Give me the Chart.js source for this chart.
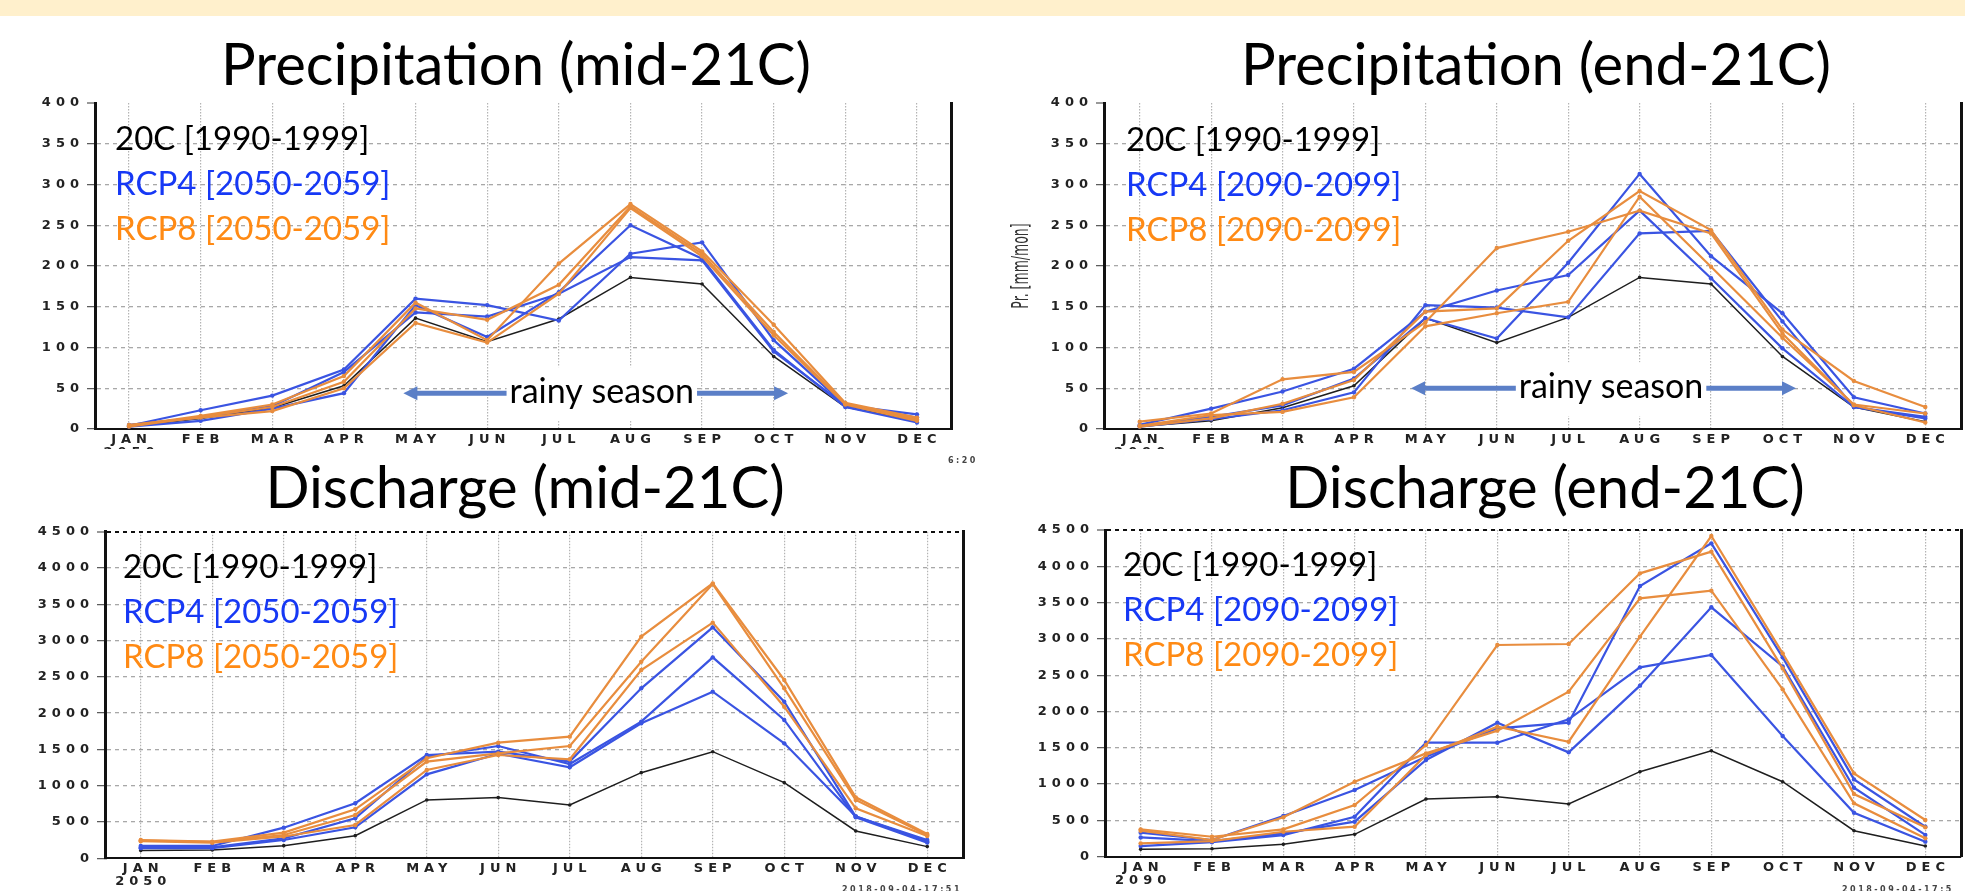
<!DOCTYPE html>
<html>
<head>
<meta charset="utf-8">
<script src="https://cdn.jsdelivr.net/npm/chart.js@4/dist/chart.umd.min.js"></script>
<style>
  html, body { margin: 0; padding: 0; background: #fff; }
  body { width: 1965px; height: 891px; position: relative; overflow: hidden; }
  #band { position: absolute; left: 0; top: 0; width: 1965px; height: 16px; background: #fff0cc; }
  .panel { position: absolute; }
</style>
</head>
<body>
<div id="band"></div>
<div class="panel" style="left:0;top:16px;width:980px;height:433px"><canvas id="pr-mid"></canvas></div>
<div class="panel" style="left:980px;top:16px;width:985px;height:433px"><canvas id="pr-end"></canvas></div>
<div class="panel" style="left:0;top:449px;width:980px;height:442px"><canvas id="q-mid"></canvas></div>
<div class="panel" style="left:980px;top:449px;width:985px;height:442px"><canvas id="q-end"></canvas></div>
<script>
// Categories
const MONTHS = ['JAN', 'FEB', 'MAR', 'APR', 'MAY', 'JUN', 'JUL', 'AUG', 'SEP', 'OCT', 'NOV', 'DEC'];

// Legend entries
const LEGEND_MID = ['20C [1990-1999]', 'RCP4 [2050-2059]', 'RCP8 [2050-2059]'];
const LEGEND_END = ['20C [1990-1999]', 'RCP4 [2090-2099]', 'RCP8 [2090-2099]'];

// Precipitation, mid-21C [mm/mon]
const PR_MID_20C = [3, 13, 26, 53, 136, 107, 135, 186, 178, 89, 27, 10];
const PR_MID_RCP4_A = [4, 23, 41, 73, 160, 152, 133, 215, 229, 109, 29, 18];
const PR_MID_RCP4_B = [3, 10, 25, 44, 152, 113, 168, 250, 209, 97, 27, 8];
const PR_MID_RCP4_C = [5, 14, 28, 70, 143, 138, 166, 211, 207, 95, 29, 14];
const PR_MID_RCP8_A = [4, 16, 30, 65, 155, 109, 203, 276, 218, 128, 32, 14];
const PR_MID_RCP8_B = [3, 15, 27, 58, 148, 134, 177, 273, 215, 119, 31, 12];
const PR_MID_RCP8_C = [5, 14, 22, 50, 130, 106, 166, 271, 212, 115, 30, 10];

// Precipitation, end-21C [mm/mon]
const PR_END_20C = [3, 10, 26, 53, 136, 106, 137, 186, 178, 89, 27, 9];
const PR_END_RCP4_A = [4, 15, 29, 62, 136, 111, 204, 313, 212, 142, 39, 19];
const PR_END_RCP4_B = [5, 25, 46, 74, 144, 170, 189, 268, 185, 99, 27, 15];
const PR_END_RCP4_C = [3, 12, 23, 45, 152, 149, 137, 240, 243, 132, 27, 13];
const PR_END_RCP8_A = [9, 19, 61, 70, 131, 222, 242, 268, 240, 117, 29, 8];
const PR_END_RCP8_B = [3, 13, 31, 60, 144, 148, 231, 292, 244, 122, 59, 27];
const PR_END_RCP8_C = [4, 17, 21, 39, 126, 142, 156, 285, 199, 112, 30, 19];

// Discharge, mid-21C
const Q_MID_20C = [106, 115, 174, 312, 804, 836, 735, 1180, 1469, 1042, 377, 161];
const Q_MID_RCP4_A = [170, 170, 422, 758, 1423, 1469, 1332, 2342, 3182, 2158, 574, 252];
const Q_MID_RCP4_B = [150, 152, 275, 551, 1400, 1547, 1300, 1883, 2769, 1906, 565, 216];
const Q_MID_RCP4_C = [140, 140, 252, 427, 1157, 1440, 1254, 1860, 2296, 1584, 580, 230];
const Q_MID_RCP8_A = [252, 230, 354, 675, 1378, 1593, 1676, 3054, 3788, 2457, 840, 335];
const Q_MID_RCP8_B = [245, 225, 321, 597, 1332, 1446, 1547, 2709, 3779, 2342, 804, 320];
const Q_MID_RCP8_C = [235, 215, 300, 459, 1217, 1423, 1364, 2594, 3247, 2089, 689, 308];

// Discharge, end-21C
const Q_END_20C = [101, 110, 170, 308, 794, 827, 726, 1171, 1460, 1033, 358, 147];
const Q_END_RCP4_A = [331, 230, 560, 918, 1378, 1768, 1846, 3729, 4316, 2746, 1065, 413];
const Q_END_RCP4_B = [266, 215, 320, 482, 1332, 1846, 1437, 2356, 3435, 2620, 950, 300];
const Q_END_RCP4_C = [147, 200, 298, 551, 1570, 1570, 1892, 2608, 2778, 1662, 606, 207];
const Q_END_RCP8_A = [377, 275, 377, 712, 1538, 2916, 2930, 3903, 4202, 2594, 863, 404];
const Q_END_RCP8_B = [358, 230, 542, 1033, 1423, 1736, 2273, 3559, 3664, 2305, 735, 253];
const Q_END_RCP8_C = [184, 215, 344, 413, 1400, 1791, 1584, 3031, 4417, 2801, 1148, 505];

// Colours
const LINE_BLACK = '#1e1e1e';
const LINE_BLUE = 'rgb(58, 84, 226)';
const LINE_ORANGE = 'rgb(232, 141, 62)';
const TEXT_BLUE = '#1638f5';
const TEXT_ORANGE = '#ff8a14';
const ARROW_BLUE = '#5b7fc7';

/** Draws titles, in-plot legends, the rainy season arrow and stray labels */
const panelDecor = {
    id: 'panelDecor',
    beforeDraw(chart) {
        // GrADS axis labels are very wide, widen the tick text
        chart.ctx.letterSpacing = '5px';
    },
    afterDatasetsDraw(chart, args, opts) {
        const { ctx, chartArea, scales: { x, y } } = chart;
        ctx.save();
        ctx.letterSpacing = '0px';

        // Rainy season arrow, in data units
        if (opts.arrow) {
            const a = opts.arrow;
            const yA = y.getPixelForValue(a.y);
            const x0 = x.getPixelForValue(a.from);
            const x1 = x.getPixelForValue(a.to);
            ctx.strokeStyle = ARROW_BLUE;
            ctx.fillStyle = ARROW_BLUE;
            ctx.lineWidth = 5;
            ctx.beginPath();
            ctx.moveTo(x0 + 10, yA);
            ctx.lineTo(x1 - 10, yA);
            ctx.stroke();
            ctx.beginPath();
            ctx.moveTo(x0, yA);
            ctx.lineTo(x0 + 14, yA - 7);
            ctx.lineTo(x0 + 14, yA + 7);
            ctx.closePath();
            ctx.fill();
            ctx.beginPath();
            ctx.moveTo(x1, yA);
            ctx.lineTo(x1 - 14, yA - 7);
            ctx.lineTo(x1 - 14, yA + 7);
            ctx.closePath();
            ctx.fill();

            ctx.font = '34px Lato';
            const w = ctx.measureText(a.text).width;
            const xc = x.getPixelForValue(a.textAt);
            ctx.fillStyle = '#fff';
            ctx.fillRect(xc - w / 2 - 3, yA - 26, w + 6, 54);
            ctx.fillStyle = '#000';
            ctx.textAlign = 'center';
            ctx.textBaseline = 'alphabetic';
            ctx.fillText(a.text, xc, yA + 10);
        }

        // Legend written inside the plot
        ctx.font = '33px Lato';
        ctx.textAlign = 'left';
        ctx.textBaseline = 'alphabetic';
        const legendColors = ['#000', TEXT_BLUE, TEXT_ORANGE];
        opts.legend.forEach((txt, i) => {
            ctx.fillStyle = legendColors[i];
            ctx.fillText(txt, chartArea.left + opts.legendDx, chartArea.top + opts.legendDy + i * 45);
        });

        // Panel title
        ctx.font = '58px Lato';
        ctx.fillStyle = '#000';
        ctx.textAlign = 'center';
        ctx.fillText(opts.title, opts.titleX, opts.titleY);

        // Squeezed y-axis title
        if (opts.yTitle) {
            ctx.save();
            ctx.translate(opts.yTitle.x, opts.yTitle.y);
            ctx.rotate(-Math.PI / 2);
            ctx.scale(1, 1.8);
            ctx.font = '12.5px "DejaVu Sans"';
            ctx.fillStyle = '#333';
            ctx.textBaseline = 'middle';
            ctx.fillText(opts.yTitle.text, 0, 0);
            ctx.restore();
        }

        // Leftover time stamps of the original plots
        ctx.font = 'bold 8px "DejaVu Sans"';
        ctx.letterSpacing = '2.5px';
        ctx.fillStyle = '#444';
        ctx.textAlign = 'left';
        for (const t of opts.extras || []) ctx.fillText(t.text, t.x, t.y);
        ctx.restore();
    }
};

function lineSet(values, color, width, radius) {
    return {
        data: values.map((v, i) => ({ x: i, y: v })),
        borderColor: color,
        backgroundColor: color,
        borderWidth: width,
        pointRadius: radius,
        pointBorderWidth: 0,
        tension: 0,
        fill: false
    };
}

const TICK_FONT = { family: 'DejaVu Sans', weight: 'bold', size: 13, lineHeight: 1.0 };

function makePanel(canvasId, cfg) {
    // First dataset is drawn on top: orange, then blue, then black
    const datasets = [];
    for (const arr of cfg.rcp8) datasets.push(lineSet(arr, LINE_ORANGE, 2.2, 2.2));
    for (const arr of cfg.rcp4) datasets.push(lineSet(arr, LINE_BLUE, 2.2, 2.2));
    datasets.push(lineSet(cfg.base, LINE_BLACK, 1.5, 1.8));

    return new Chart(document.getElementById(canvasId), {
        type: 'line',
        data: { datasets },
        plugins: [panelDecor],
        options: {
            responsive: true,
            maintainAspectRatio: false,
            animation: false,
            layout: { padding: { top: cfg.padTop, right: cfg.padRight, left: 0, bottom: 0 } },
            plugins: {
                legend: { display: false },
                tooltip: { enabled: false },
                panelDecor: cfg.decor
            },
            scales: {
                x: {
                    type: 'linear',
                    min: cfg.xMin,
                    max: cfg.xMax,
                    afterBuildTicks: s => { s.ticks = MONTHS.map((_, i) => ({ value: i })); },
                    afterFit: s => { s.height = cfg.xAxisHeight; },
                    grid: { color: '#b4b4b4', lineWidth: 1.2, drawTicks: false },
                    border: { display: true, color: '#111', width: 2, dash: [1.5, 1.5] },
                    ticks: {
                        color: '#222',
                        font: TICK_FONT,
                        padding: 4,
                        labelOffset: 2.5,
                        maxRotation: 0,
                        autoSkip: false,
                        callback: v => (v === 0 ? [MONTHS[0], cfg.year] : MONTHS[v])
                    }
                },
                y: {
                    min: 0,
                    max: cfg.yMax,
                    afterFit: s => { s.width = cfg.yAxisWidth; },
                    grid: {
                        color: c => (c.tick.value === 0 ? 'rgba(0,0,0,0)' : c.tick.value === cfg.yMax ? cfg.topLine : '#a8a8a8'),
                        lineWidth: c => (c.tick.value === cfg.yMax ? 2 : 1.3),
                        tickLength: 8,
                        tickColor: '#555',
                        tickWidth: 1.2
                    },
                    border: { display: true, color: '#111', width: 3, dash: [4, 4] },
                    ticks: { stepSize: cfg.yStep, color: '#222', font: TICK_FONT, padding: 3, callback: v => String(v) }
                },
                y2: {
                    position: 'right',
                    min: 0,
                    max: 1,
                    afterFit: s => { s.width = 0; },
                    grid: { display: false, drawTicks: false },
                    ticks: { display: false },
                    border: { display: true, color: '#111', width: 3 }
                }
            }
        }
    });
}

makePanel('pr-mid', {
    base: PR_MID_20C,
    rcp4: [PR_MID_RCP4_A, PR_MID_RCP4_B, PR_MID_RCP4_C],
    rcp8: [PR_MID_RCP8_A, PR_MID_RCP8_B, PR_MID_RCP8_C],
    year: '2050', yMax: 400, yStep: 50, topLine: 'rgba(0,0,0,0)',
    xMin: -0.475, xMax: 11.475,
    padTop: 87, padRight: 29, yAxisWidth: 95, xAxisHeight: 20,
    decor: {
        title: 'Precipitation (mid-21C)', titleX: 516, titleY: 69,
        legend: LEGEND_MID, legendDx: 20, legendDy: 47,
        arrow: { from: 3.83, to: 9.2, y: 44, textAt: 6.6, text: 'rainy season' }
    }
});

makePanel('pr-end', {
    base: PR_END_20C,
    rcp4: [PR_END_RCP4_A, PR_END_RCP4_B, PR_END_RCP4_C],
    rcp8: [PR_END_RCP8_A, PR_END_RCP8_B, PR_END_RCP8_C],
    year: '2090', yMax: 400, yStep: 50, topLine: 'rgba(0,0,0,0)',
    xMin: -0.5, xMax: 11.5,
    padTop: 87, padRight: 3, yAxisWidth: 124, xAxisHeight: 20,
    decor: {
        title: 'Precipitation (end-21C)', titleX: 556, titleY: 69,
        legend: LEGEND_END, legendDx: 22, legendDy: 48,
        arrow: { from: 3.8, to: 9.19, y: 50, textAt: 6.6, text: 'rainy season' },
        yTitle: { text: 'Pr. [mm/mon]', x: 42, y: 250 }
    }
});

makePanel('q-mid', {
    base: Q_MID_20C,
    rcp4: [Q_MID_RCP4_A, Q_MID_RCP4_B, Q_MID_RCP4_C],
    rcp8: [Q_MID_RCP8_A, Q_MID_RCP8_B, Q_MID_RCP8_C],
    year: '2050', yMax: 4500, yStep: 500, topLine: '#111',
    xMin: -0.5, xMax: 11.5,
    padTop: 82.7, padRight: 17, yAxisWidth: 105, xAxisHeight: 32.7,
    decor: {
        title: 'Discharge (mid-21C)', titleX: 525, titleY: 59,
        legend: LEGEND_MID, legendDx: 18, legendDy: 46,
        extras: [{ text: '6:20', x: 948, y: 14 }, { text: '2018-09-04-17:51', x: 842, y: 443 }]
    }
});

makePanel('q-end', {
    base: Q_END_20C,
    rcp4: [Q_END_RCP4_A, Q_END_RCP4_B, Q_END_RCP4_C],
    rcp8: [Q_END_RCP8_A, Q_END_RCP8_B, Q_END_RCP8_C],
    year: '2090', yMax: 4500, yStep: 500, topLine: '#111',
    xMin: -0.5, xMax: 11.5,
    padTop: 81, padRight: 3, yAxisWidth: 125, xAxisHeight: 34.3,
    decor: {
        title: 'Discharge (end-21C)', titleX: 565, titleY: 59,
        legend: LEGEND_END, legendDx: 18, legendDy: 46,
        extras: [{ text: '2018-09-04-17:5', x: 862, y: 443 }]
    }
});
</script>
</body>
</html>
